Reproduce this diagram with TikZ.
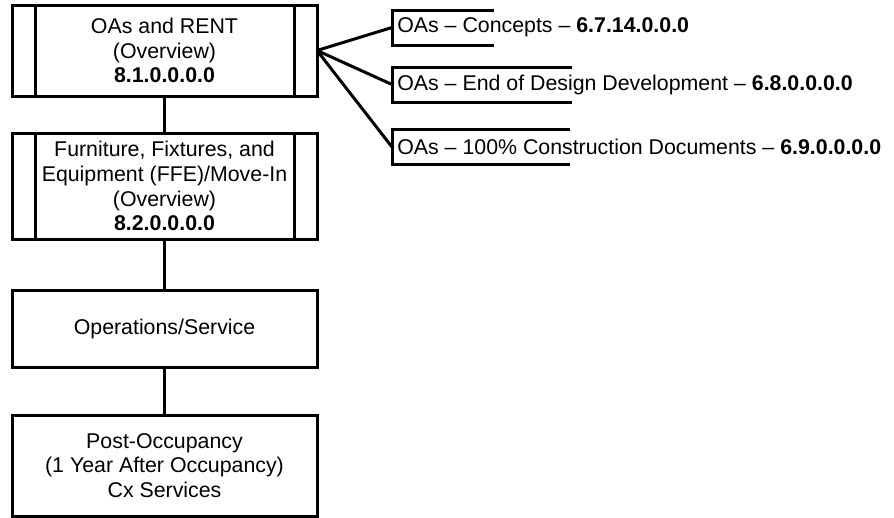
\documentclass[tikz,border=0pt]{standalone}
\usepackage{fontspec}
\setmainfont{Liberation Sans}
\usepackage{tikz}
\usetikzlibrary{positioning}

\tikzset{
  box/.style={draw, line width=2.25pt, outer sep=0pt, minimum width=228.75pt, align=center, inner sep=2pt, font=\fontsize{16}{18.6}\selectfont},
  note/.style={anchor=west, outer sep=0pt, inner xsep=4pt, inner ysep=0pt, minimum height=26.25pt, font=\fontsize{16}{18.6}\selectfont},
  link/.style={line width=2.25pt},
}

\begin{document}
\begin{tikzpicture}[x=0.75pt,y=-0.75pt]
\useasboundingbox (0,0) rectangle (894,518);

\node[box, minimum height=68.25pt] (ovw) at (164.5,50.5) {OAs and RENT\\(Overview)\\\textbf{8.1.0.0.0.0}};
\node[box, minimum height=79.5pt] (ffe) at (164.5,186) {Furniture, Fixtures, and\\Equipment (FFE)/Move-In\\(Overview)\\\textbf{8.2.0.0.0.0}};
\node[box, minimum height=57.75pt] (ops) at (164.5,328.5) {Operations/Service};
\node[box, minimum height=75.75pt] (post) at (164.5,465.5) {Post-Occupancy\\(1 Year After Occupancy)\\Cx Services};

\foreach \n in {ovw,ffe} {
  \draw[link] ([xshift=17.25pt]\n.north west) -- ([xshift=17.25pt]\n.south west);
  \draw[link] ([xshift=-17.25pt]\n.north east) -- ([xshift=-17.25pt]\n.south east);
}

\node[note] (cpt) at (392,27.5) {OAs – Concepts – \textbf{6.7.14.0.0.0}};
\node[note] (edd) at (392,84.5) {OAs – End of Design Development – \textbf{6.8.0.0.0.0}};
\node[note] (cd) at (392,147) {OAs – 100\% Construction Documents – \textbf{6.9.0.0.0.0}};

\foreach \n/\len in {cpt/102,edd/180,cd/178}
  \draw[link] (\n.north west) ++(\len,0) -| (\n.south west) -- ++(\len,0);

\draw[link] (ovw) -- (ffe);
\draw[link] (ffe) -- (ops);
\draw[link] (ops) -- (post);
\foreach \n in {cpt,edd,cd}
  \draw[link] (ovw.east) -- (\n.west);
\end{tikzpicture}
\end{document}
